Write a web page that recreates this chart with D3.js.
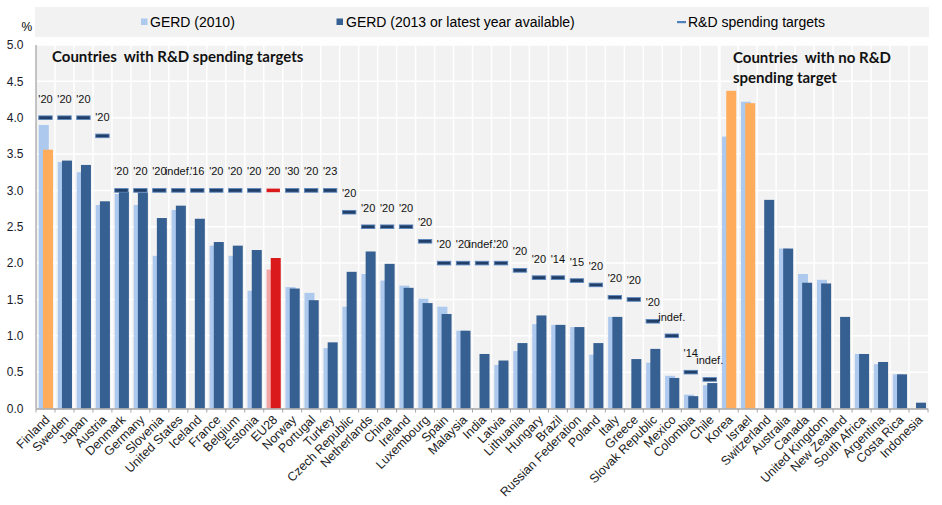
<!DOCTYPE html>
<html><head><meta charset="utf-8">
<script src="https://cdn.jsdelivr.net/npm/d3@7"></script>
<style>body{margin:0;background:#fff;} svg{display:block;font-family:"Liberation Sans",Arial,sans-serif;}</style>
</head><body><svg id="c" width="942" height="505"></svg>
<script>
const categories = ["Finland","Sweden","Japan","Austria","Denmark","Germany","Slovenia","United States","Iceland","France","Belgium","Estonia","EU28","Norway","Portugal","Turkey","Czech Republic","Netherlands","China","Ireland","Luxembourg","Spain","Malaysia","India","Latvia","Lithuania","Hungary","Brazil","Russian Federation","Poland","Italy","Greece","Slovak Republic","Mexico","Colombia","Chile","Korea","Israel","Switzerland","Australia","Canada","United Kingdom","New Zealand","South Africa","Argentina","Costa Rica","Indonesia"];
const gerd2010 = [3.90,3.39,3.25,2.80,2.95,2.80,2.10,2.73,null,2.24,2.10,1.62,1.91,1.67,1.59,0.83,1.40,1.85,1.76,1.69,1.51,1.40,1.07,null,0.60,0.79,1.16,1.15,1.12,0.74,1.26,null,0.63,0.45,0.19,0.32,3.74,4.22,null,2.20,1.85,1.77,null,0.75,0.61,0.47,null];
const gerd2013 = [3.56,3.41,3.35,2.85,2.98,2.97,2.62,2.79,2.61,2.29,2.24,2.18,2.07,1.65,1.49,0.91,1.88,2.16,1.99,1.66,1.45,1.30,1.07,0.75,0.66,0.90,1.28,1.15,1.12,0.90,1.26,0.68,0.82,0.42,0.17,0.35,4.37,4.20,2.87,2.20,1.73,1.72,1.26,0.75,0.64,0.47,0.08];
const targets = [4,4,4,3.75,3,3,3,3,3,3,3,3,3,3,3,3,2.7,2.5,2.5,2.5,2.3,2,2,2,2,1.9,1.8,1.8,1.76,1.7,1.53,1.5,1.2,1,0.5,0.4,null,null,null,null,null,null,null,null,null,null,null];
const targetLabels = ["'20","'20","'20","'20","'20","'20","'20","indef.","'16","'20","'20","'20","'20","'30","'20","'23","'20","'20","'20","'20","'20","'20","'20","indef.","'20","'20","'20","'14","'15","'20","'20","'20","'20","indef.","'14","indef.",null,null,null,null,null,null,null,null,null,null,null];
const highlighted = ["Finland","Korea","Israel"];
const euAggregate = "EU28";
const firstNoTarget = "Korea";
const yTicks = [0,0.5,1,1.5,2,2.5,3,3.5,4,4.5,5];
const legendLabels = ["GERD (2010)","GERD (2013 or latest year available)","R&D spending targets"];
const noteLeft = "Countries  with R&D spending targets";
const noteRight = ["Countries  with no R&D","spending target"];

const C = {light:"#adc9ee", dark:"#376092", orange:"#ffad5c", red:"#d9191c", lightRed:"#f3a6a6",
  dash:"#213e66", dashEdge:"#5a85bd", bg:"#f2f2f2", axis:"#a6a6a6"};

const svg = d3.select("#c");
const L = 36, R = 928, T = 45, B = 408.5;
const x = d3.scaleBand().domain(categories).range([L, R]).padding(0);
const y = d3.scaleLinear().domain([0, 5]).range([B, T]);
const bw = x.bandwidth();
const keepSpaces = s => s.replace(/  /g, " \u00a0");

// legend band
svg.append("rect").attr("x",35).attr("y",7).attr("width",894).attr("height",30).attr("fill",C.bg);
const lg = svg.append("g").attr("font-size","14px").attr("fill","#000");
lg.append("rect").attr("x",141).attr("y",18.5).attr("width",6.5).attr("height",6.5).attr("fill",C.light);
lg.append("text").attr("x",150).attr("y",26.5).text(legendLabels[0]);
lg.append("rect").attr("x",336.5).attr("y",18.5).attr("width",6.5).attr("height",6.5).attr("fill",C.dark);
lg.append("text").attr("x",346).attr("y",26.5).text(legendLabels[1]);
lg.append("rect").attr("x",677).attr("y",21).attr("width",9).attr("height",2.2).attr("fill","#4f81bd");
lg.append("text").attr("x",688).attr("y",26.5).text(legendLabels[2]);

// plot background
svg.append("rect").attr("x",L).attr("y",T).attr("width",R-L).attr("height",B-T).attr("fill",C.bg);
// grid
svg.append("g").selectAll("line").data(yTicks.filter(d=>d>0)).join("line")
  .attr("x1",L).attr("x2",R).attr("y1",d=>y(d)).attr("y2",d=>y(d))
  .attr("stroke","#fff").attr("stroke-width",1.5);
svg.append("g").selectAll("line").data(categories.slice(1)).join("line")
  .attr("x1",d=>x(d)).attr("x2",d=>x(d)).attr("y1",T).attr("y2",B)
  .attr("stroke","#fff").attr("stroke-width",d=>d===firstNoTarget?3:1.5);

// bars
const bars = svg.append("g");
bars.selectAll("rect.l").data(categories.map((c,i)=>({c,v:gerd2010[i]})).filter(d=>d.v!=null)).join("rect")
  .attr("class","l").attr("x",d=>x(d.c)+2.8).attr("width",10)
  .attr("y",d=>y(d.v)).attr("height",d=>y(0)-y(d.v))
  .attr("fill",d=>d.c===euAggregate?C.lightRed:C.light);
bars.selectAll("rect.d").data(categories.map((c,i)=>({c,v:gerd2013[i]})).filter(d=>d.v!=null)).join("rect")
  .attr("class","d").attr("x",d=>x(d.c)+7).attr("width",10)
  .attr("y",d=>y(d.v)).attr("height",d=>y(0)-y(d.v))
  .attr("fill",d=>d.c===euAggregate?C.red:(highlighted.includes(d.c)?C.orange:C.dark));

// targets
const tg = categories.map((c,i)=>({c,v:targets[i],lab:targetLabels[i]})).filter(d=>d.v!=null);
svg.append("g").selectAll("rect").data(tg).join("rect")
  .attr("x",d=>x(d.c)+bw/2-6.7).attr("width",13.4)
  .attr("y",d=>y(d.v)-1.8).attr("height",3.6)
  .attr("fill",d=>d.c===euAggregate?C.red:C.dash)
  .attr("stroke",d=>d.c===euAggregate?"none":C.dashEdge).attr("stroke-width",0.9);
svg.append("g").attr("font-size","11px").attr("fill","#111").attr("text-anchor","middle")
  .selectAll("text").data(tg).join("text")
  .attr("x",d=>x(d.c)+bw/2).attr("y",d=>y(d.v)-15).text(d=>d.lab);

// axes
svg.append("line").attr("x1",L).attr("x2",L).attr("y1",T).attr("y2",B).attr("stroke",C.axis).attr("stroke-width",1.3);
svg.append("line").attr("x1",L).attr("x2",R).attr("y1",B+0.5).attr("y2",B+0.5).attr("stroke",C.axis).attr("stroke-width",1.5);
svg.append("g").selectAll("line").data(categories).join("line")
  .attr("x1",d=>x(d)).attr("x2",d=>x(d)).attr("y1",B).attr("y2",B+4).attr("stroke",C.axis).attr("stroke-width",1);
svg.append("line").attr("x1",R).attr("x2",R).attr("y1",B).attr("y2",B+4).attr("stroke",C.axis);

svg.append("g").attr("font-size","12px").attr("fill","#1a1a2a").attr("text-anchor","end")
  .selectAll("text").data(yTicks).join("text")
  .attr("x",23.5).attr("y",d=>y(d)+4.3).text(d=>d.toFixed(1));
svg.append("text").attr("x",21.5).attr("y",31).attr("font-size","12px").text("%");

// x labels
svg.append("g").attr("font-size","12.5px").attr("fill","#222").attr("text-anchor","end")
  .selectAll("text").data(categories).join("text")
  .attr("transform",d=>`translate(${x(d)+bw/2+5},${B+12}) rotate(-45)`).text(d=>d);

// notes
const nt = svg.append("g").attr("font-family","Lato, 'Open Sans', sans-serif").attr("font-weight","bold")
  .attr("font-size","15px").attr("fill","#111");
nt.append("text").attr("x",52).attr("y",62).text(keepSpaces(noteLeft));
nt.append("text").attr("x",733).attr("y",63).text(keepSpaces(noteRight[0]));
nt.append("text").attr("x",733).attr("y",83).text(keepSpaces(noteRight[1]));
</script></body></html>
